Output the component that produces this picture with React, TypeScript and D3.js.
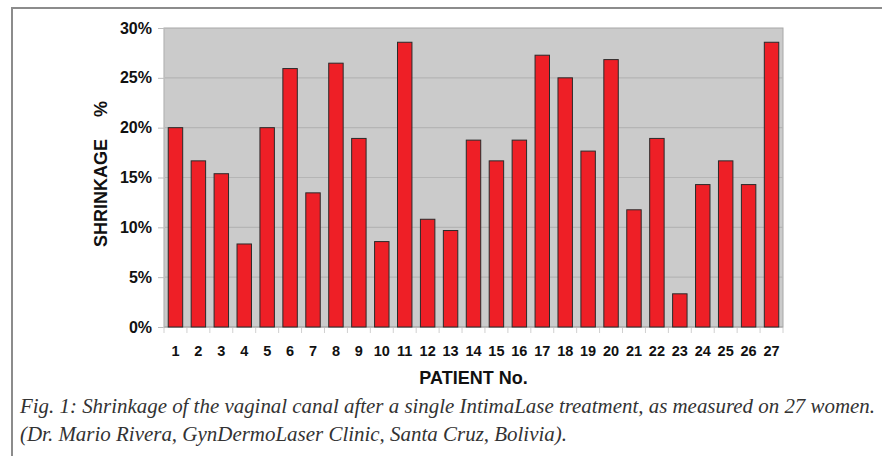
import React, { useEffect, useRef } from 'react';
import * as d3 from 'd3';

// shrinkage per patient, in %
const patients = d3.range(1, 28).map(String);
const shrinkage = [
  20.0, 16.67, 15.38, 8.33, 20.0, 25.93, 13.46, 26.47, 18.92, 8.57,
  28.57, 10.81, 9.68, 18.75, 16.67, 18.75, 27.27, 25.0, 17.65, 26.83,
  11.76, 18.92, 3.33, 14.29, 16.67, 14.29, 28.57,
];
const yTicks = [0, 5, 10, 15, 20, 25, 30];
const captionLines = [
  'Fig. 1: Shrinkage of the vaginal canal after a single IntimaLase treatment, as measured on 27 women.',
  '(Dr. Mario Rivera, GynDermoLaser Clinic, Santa Cruz, Bolivia).',
];

const App = () => {
  const svgRef = useRef<SVGSVGElement>(null);

  useEffect(() => {
    const svgWidth = 882;
    const svgHeight = 456;
    const plot = { left: 164, right: 783, top: 28, bottom: 327 };
    const sans = 'Arial, "Liberation Sans", sans-serif';

    const svg = d3.select(svgRef.current)
      .attr('width', svgWidth)
      .attr('height', svgHeight)
      .style('background', '#fff');

    svg.selectAll('*').remove();

    // outer frame (only top and left show)
    svg.append('path')
      .attr('d', `M12,${svgHeight} L12,8 L${svgWidth},8`)
      .attr('fill', 'none')
      .attr('stroke', '#8c8c8c')
      .attr('stroke-width', 2);

    const x = d3.scaleBand()
      .domain(patients)
      .range([plot.left, plot.right])
      .paddingInner(0.37)
      .paddingOuter(0.185);

    const y = d3.scaleLinear()
      .domain([0, 30])
      .range([plot.bottom, plot.top]);

    // plot background
    svg.append('rect')
      .attr('x', plot.left)
      .attr('y', plot.top)
      .attr('width', plot.right - plot.left)
      .attr('height', plot.bottom - plot.top)
      .attr('fill', '#cbcbcb')
      .attr('stroke', '#a8a8a8')
      .attr('stroke-width', 1);

    // gridlines
    svg.append('g')
      .selectAll('line')
      .data(yTicks.slice(1, -1))
      .join('line')
      .attr('x1', plot.left)
      .attr('x2', plot.right)
      .attr('y1', d => y(d))
      .attr('y2', d => y(d))
      .attr('stroke', '#b5b5b5')
      .attr('stroke-width', 1.2);

    // y axis
    const yAxis = d3.axisLeft(y)
      .tickValues(yTicks)
      .tickSize(6)
      .tickPadding(6)
      .tickFormat(d => `${d}%`);
    const gy = svg.append('g')
      .attr('transform', `translate(${plot.left},0)`)
      .call(yAxis);
    gy.select('.domain').attr('stroke', '#bdbdbd');
    gy.selectAll('.tick line').attr('stroke', '#bdbdbd');
    gy.selectAll('.tick text')
      .attr('font-family', sans)
      .attr('font-weight', 'bold')
      .attr('font-size', 16)
      .attr('fill', '#111');

    // x axis: ticks at category boundaries
    const step = x.step();
    svg.append('g')
      .selectAll('line')
      .data(d3.range(patients.length + 1))
      .join('line')
      .attr('x1', i => plot.left + i * step)
      .attr('x2', i => plot.left + i * step)
      .attr('y1', plot.bottom)
      .attr('y2', plot.bottom + 6)
      .attr('stroke', '#d0d0d0');
    svg.append('line')
      .attr('x1', plot.left)
      .attr('x2', plot.right)
      .attr('y1', plot.bottom)
      .attr('y2', plot.bottom)
      .attr('stroke', '#a8a8a8');

    svg.append('g')
      .selectAll('text')
      .data(patients)
      .join('text')
      .attr('x', d => (x(d) as number) + x.bandwidth() / 2)
      .attr('y', 356)
      .attr('text-anchor', 'middle')
      .attr('font-family', sans)
      .attr('font-weight', 'bold')
      .attr('font-size', 14.5)
      .attr('fill', '#111')
      .text(d => d);

    // bars
    svg.append('g')
      .selectAll('rect')
      .data(shrinkage)
      .join('rect')
      .attr('x', (d, i) => x(patients[i]) as number)
      .attr('y', d => y(d))
      .attr('width', x.bandwidth())
      .attr('height', d => y(0) - y(d))
      .attr('fill', '#ee1f26')
      .attr('stroke', '#2a2a2a')
      .attr('stroke-width', 1);

    // axis titles
    svg.append('text')
      .attr('x', (plot.left + plot.right) / 2)
      .attr('y', 384)
      .attr('text-anchor', 'middle')
      .attr('font-family', sans)
      .attr('font-weight', 'bold')
      .attr('font-size', 18)
      .attr('fill', '#111')
      .text('PATIENT No.');

    svg.append('text')
      .attr('transform', 'translate(107,247) rotate(-90)')
      .attr('font-family', sans)
      .attr('font-weight', 'bold')
      .attr('font-size', 18)
      .attr('fill', '#111')
      .text('SHRINKAGE');
    svg.append('text')
      .attr('transform', 'translate(107,117) rotate(-90)')
      .attr('font-family', sans)
      .attr('font-weight', 'bold')
      .attr('font-size', 18)
      .attr('fill', '#111')
      .text('%');

    // caption
    const lineLengths = [855, 547];
    svg.append('g')
      .selectAll('text')
      .data(captionLines)
      .join('text')
      .attr('x', 20)
      .attr('y', (d, i) => 413 + i * 28)
      .attr('font-family', '"Liberation Serif", "DejaVu Serif", serif')
      .attr('font-style', 'italic')
      .attr('font-size', 20)
      .attr('fill', '#333')
      .attr('textLength', (d, i) => lineLengths[i])
      .attr('lengthAdjust', 'spacingAndGlyphs')
      .text(d => d);
  }, []);

  return (
    <svg
      ref={svgRef}
      style={{ position: 'absolute', left: 0, top: 0, display: 'block' }}
    ></svg>
  );
};

export default App;
